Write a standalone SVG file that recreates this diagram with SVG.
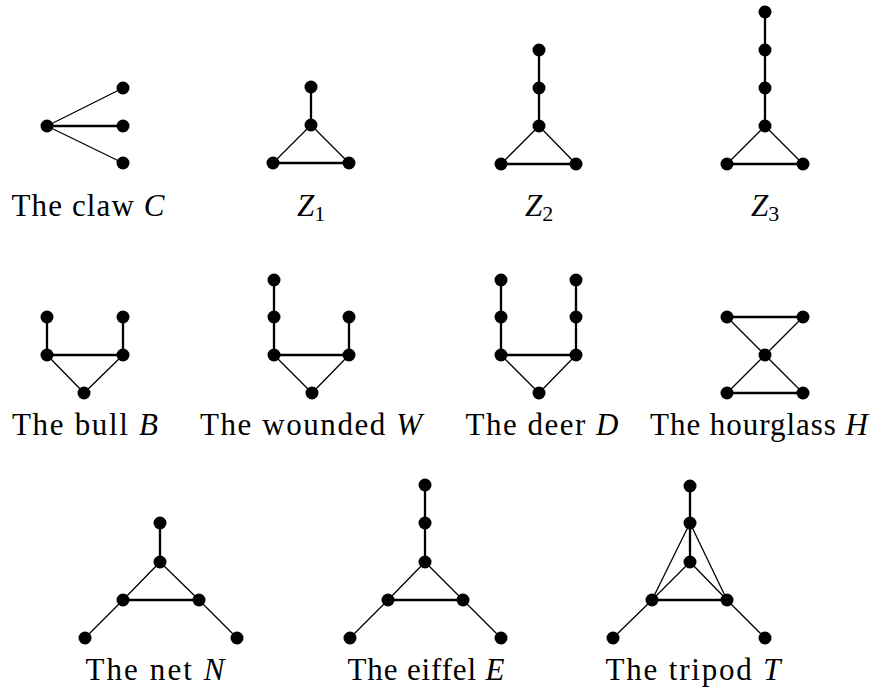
<svg xmlns="http://www.w3.org/2000/svg" width="873" height="699" viewBox="0 0 873 699">
<style>
.n{fill:#000}
.e{stroke:#000;stroke-width:2.3;fill:none}
.d{stroke:#000;stroke-width:1.3;fill:none}
.l{font-family:"Liberation Serif","DejaVu Serif",serif;font-size:31px;fill:#000;text-anchor:middle}
.i{font-style:italic}
.s{font-size:22px}
</style>
<rect width="873" height="699" fill="#fff"/>
<g id="connectors">
<path class="d" d="M47,126L123,88M47,126L123,163"/><path class="e" d="M47,126H123"/>
<path class="e" d="M311,87V125M273,163H349"/><path class="d" d="M311,125L273,163M311,125L349,163"/>
<path class="e" d="M539,50V126M501,164H576"/><path class="d" d="M539,126L501,164M539,126L576,164"/>
<path class="e" d="M765,12V126M727,164H803"/><path class="d" d="M765,126L727,164M765,126L803,164"/>
<path class="e" d="M47,317V355H123V317"/><path class="d" d="M47,355L84,393L123,355"/>
<path class="e" d="M274,280V355H349V317"/><path class="d" d="M274,355L312,393L349,355"/>
<path class="e" d="M501,280V355H576V280"/><path class="d" d="M501,355L539,393L576,355"/>
<path class="e" d="M727,317H803M727,393H803"/><path class="d" d="M727,317L803,393M803,317L727,393"/>
<path class="e" d="M160,523V562M123,600H199"/><path class="d" d="M160,562L123,600L85,638M160,562L199,600L237,638"/>
<path class="e" d="M425,485V562M388,600H463"/><path class="d" d="M425,562L388,600L350,638M425,562L463,600L501,638"/>
<path class="e" d="M690,486V562M652,600H727"/><path class="d" d="M690,562L652,600L613,638M690,562L727,600L765,638M690,523L652,600M690,523L727,600"/>
</g>
<g id="claw"><circle class="n" cx="47" cy="126" r="6.5"/><circle class="n" cx="123" cy="88" r="6.5"/><circle class="n" cx="123" cy="126" r="6.5"/><circle class="n" cx="123" cy="163" r="6.5"/><text class="l" x="88" y="216" textLength="153" lengthAdjust="spacing">The claw <tspan class="i">C</tspan></text></g>
<g id="z1"><circle class="n" cx="311" cy="87" r="6.5"/><circle class="n" cx="311" cy="125" r="6.5"/><circle class="n" cx="273" cy="163" r="6.5"/><circle class="n" cx="349" cy="163" r="6.5"/><text class="l" x="311" y="216"><tspan class="i">Z</tspan><tspan class="s" dy="5">1</tspan></text></g>
<g id="z2"><circle class="n" cx="539" cy="50" r="6.5"/><circle class="n" cx="539" cy="88" r="6.5"/><circle class="n" cx="539" cy="126" r="6.5"/><circle class="n" cx="501" cy="164" r="6.5"/><circle class="n" cx="576" cy="164" r="6.5"/><text class="l" x="539" y="216"><tspan class="i">Z</tspan><tspan class="s" dy="5">2</tspan></text></g>
<g id="z3"><circle class="n" cx="765" cy="12" r="6.5"/><circle class="n" cx="765" cy="50" r="6.5"/><circle class="n" cx="765" cy="88" r="6.5"/><circle class="n" cx="765" cy="126" r="6.5"/><circle class="n" cx="727" cy="164" r="6.5"/><circle class="n" cx="803" cy="164" r="6.5"/><text class="l" x="765" y="216"><tspan class="i">Z</tspan><tspan class="s" dy="5">3</tspan></text></g>
<g id="bull"><circle class="n" cx="47" cy="317" r="6.5"/><circle class="n" cx="123" cy="317" r="6.5"/><circle class="n" cx="47" cy="355" r="6.5"/><circle class="n" cx="123" cy="355" r="6.5"/><circle class="n" cx="84" cy="393" r="6.5"/><text class="l" x="85" y="435" textLength="146" lengthAdjust="spacing">The bull <tspan class="i">B</tspan></text></g>
<g id="wounded"><circle class="n" cx="274" cy="280" r="6.5"/><circle class="n" cx="274" cy="317" r="6.5"/><circle class="n" cx="274" cy="355" r="6.5"/><circle class="n" cx="349" cy="317" r="6.5"/><circle class="n" cx="349" cy="355" r="6.5"/><circle class="n" cx="312" cy="393" r="6.5"/><text class="l" x="311" y="435" textLength="222" lengthAdjust="spacing">The wounded <tspan class="i">W</tspan></text></g>
<g id="deer"><circle class="n" cx="501" cy="280" r="6.5"/><circle class="n" cx="501" cy="317" r="6.5"/><circle class="n" cx="501" cy="355" r="6.5"/><circle class="n" cx="576" cy="280" r="6.5"/><circle class="n" cx="576" cy="317" r="6.5"/><circle class="n" cx="576" cy="355" r="6.5"/><circle class="n" cx="539" cy="393" r="6.5"/><text class="l" x="542" y="435" textLength="153" lengthAdjust="spacing">The deer <tspan class="i">D</tspan></text></g>
<g id="hourglass"><circle class="n" cx="727" cy="317" r="6.5"/><circle class="n" cx="803" cy="317" r="6.5"/><circle class="n" cx="765" cy="355" r="6.5"/><circle class="n" cx="727" cy="393" r="6.5"/><circle class="n" cx="803" cy="393" r="6.5"/><text class="l" x="759" y="435" textLength="218" lengthAdjust="spacing">The hourglass <tspan class="i">H</tspan></text></g>
<g id="net"><circle class="n" cx="160" cy="523" r="6.5"/><circle class="n" cx="160" cy="562" r="6.5"/><circle class="n" cx="123" cy="600" r="6.5"/><circle class="n" cx="199" cy="600" r="6.5"/><circle class="n" cx="85" cy="638" r="6.5"/><circle class="n" cx="237" cy="638" r="6.5"/><text class="l" x="155" y="680" textLength="139" lengthAdjust="spacing">The net <tspan class="i">N</tspan></text></g>
<g id="eiffel"><circle class="n" cx="425" cy="485" r="6.5"/><circle class="n" cx="425" cy="523" r="6.5"/><circle class="n" cx="425" cy="562" r="6.5"/><circle class="n" cx="388" cy="600" r="6.5"/><circle class="n" cx="463" cy="600" r="6.5"/><circle class="n" cx="350" cy="638" r="6.5"/><circle class="n" cx="501" cy="638" r="6.5"/><text class="l" x="426" y="680" textLength="157" lengthAdjust="spacing">The eiffel <tspan class="i">E</tspan></text></g>
<g id="tripod"><circle class="n" cx="690" cy="486" r="6.5"/><circle class="n" cx="690" cy="523" r="6.5"/><circle class="n" cx="690" cy="562" r="6.5"/><circle class="n" cx="652" cy="600" r="6.5"/><circle class="n" cx="727" cy="600" r="6.5"/><circle class="n" cx="613" cy="638" r="6.5"/><circle class="n" cx="765" cy="638" r="6.5"/><text class="l" x="693" y="680" textLength="175" lengthAdjust="spacing">The tripod <tspan class="i">T</tspan></text></g>
</svg>
